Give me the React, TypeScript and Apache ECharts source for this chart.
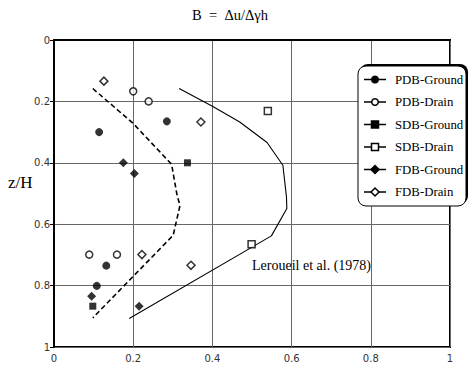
import React, { useEffect, useRef } from "react";
import * as echarts from "echarts";

const xTicks = [0, 0.2, 0.4, 0.6, 0.8, 1];
const pdbGround = [[0.114, 0.3], [0.285, 0.265], [0.132, 0.735], [0.108, 0.801]];
const pdbDrain = [[0.2, 0.167], [0.239, 0.2], [0.089, 0.699], [0.159, 0.699]];
const sdbGround = [[0.337, 0.4], [0.098, 0.867]];
const sdbDrain = [[0.54, 0.231], [0.499, 0.665]];
const fdbGround = [[0.175, 0.4], [0.203, 0.435], [0.095, 0.835], [0.215, 0.867]];
const fdbDrain = [[0.126, 0.134], [0.371, 0.267], [0.346, 0.734], [0.222, 0.699]];
const dashedCurve = [[0.098, 0.158], [0.2, 0.272], [0.297, 0.405], [0.31, 0.5], [0.318, 0.54], [0.301, 0.636], [0.098, 0.905]];
const leroueilCurve = [[0.316, 0.158], [0.4, 0.216], [0.469, 0.267], [0.538, 0.334], [0.578, 0.408], [0.587, 0.511], [0.588, 0.549], [0.549, 0.638], [0.19, 0.907]];
const legendNames = ["PDB-Ground", "PDB-Drain", "SDB-Ground", "SDB-Drain", "FDB-Ground", "FDB-Drain"];
const legendShapes = ["circle", "circle", "rect", "rect", "diamond", "diamond"];
const legendFilled = [true, false, true, false, true, false];

const serif = "'Times New Roman', 'Liberation Serif', serif";

function scatter(name: string, data: number[][], symbol: string, filled: boolean, size: number) {
  return {
    name,
    type: "scatter",
    data,
    symbol,
    symbolSize: size,
    itemStyle: {
      color: filled ? "#000" : "#fff",
      borderColor: "#000",
      borderWidth: filled ? 0 : 1.5,
    },
    z: 5,
  };
}

function txt(text: string, x: number, y: number, size: number, align: string, z = 13) {
  return { type: "text", x, y, z, style: { text, fontFamily: serif, fontSize: size, fill: "#000", align, verticalAlign: "middle" } };
}

function legendGraphics() {
  const els: any[] = [];
  els.push({ type: "rect", shape: { x: 360, y: 64, width: 108, height: 140, r: 8 }, style: { fill: "#000" }, z: 10 });
  els.push({ type: "rect", shape: { x: 358, y: 66, width: 108, height: 140, r: 8 }, style: { fill: "#fff", stroke: "#000", lineWidth: 1 }, z: 11 });
  legendNames.forEach((n, i) => {
    const y = 79.5 + i * 22.5;
    const cx = 375;
    const filled = legendFilled[i];
    const st = { fill: filled ? "#000" : "#fff", stroke: "#000", lineWidth: 1.5 };
    els.push({ type: "line", shape: { x1: 364, y1: y, x2: 386, y2: y }, style: { stroke: "#000", lineWidth: 1.5 }, z: 12 });
    if (legendShapes[i] === "circle") {
      els.push({ type: "circle", shape: { cx, cy: y, r: 3.3 }, style: st, z: 13 });
    } else if (legendShapes[i] === "rect") {
      els.push({ type: "rect", shape: { x: cx - 3.5, y: y - 3.5, width: 7, height: 7 }, style: st, z: 13 });
    } else {
      els.push({ type: "polygon", shape: { points: [[cx, y - 4], [cx + 4, y], [cx, y + 4], [cx - 4, y]] }, style: st, z: 13 });
    }
    els.push(txt(n, 395, y, 12.8, "left"));
  });
  return els;
}

export default function App() {
  const ref = useRef<HTMLDivElement>(null);
  useEffect(() => {
    document.body.style.margin = "0";
    const chart = echarts.init(ref.current!, null, { renderer: "svg" });
    chart.setOption({
      animation: false,
      backgroundColor: "#fff",
      textStyle: { fontFamily: serif },
      grid: { left: 54, top: 40, width: 396, height: 307, show: true, borderColor: "#000", borderWidth: 2, backgroundColor: "transparent" },
      xAxis: {
        type: "value",
        min: xTicks[0],
        max: xTicks[xTicks.length - 1],
        interval: 0.2,
        axisLine: { show: true, lineStyle: { color: "#000", width: 2 } },
        axisTick: { show: false },
        splitLine: { show: true, lineStyle: { color: "#666", width: 1 } },
        axisLabel: { color: "#333", fontSize: 10, fontFamily: "DejaVu Sans", margin: 6 },
      },
      yAxis: {
        type: "value",
        inverse: true,
        min: 0,
        max: 1,
        interval: 0.2,
        axisLine: { show: true, lineStyle: { color: "#000", width: 2 } },
        axisTick: { show: true, length: 4, lineStyle: { color: "#000" } },
        splitLine: { show: true, lineStyle: { color: "#666", width: 1 } },
        axisLabel: { color: "#333", fontSize: 10, fontFamily: "DejaVu Sans", margin: 4 },
      },
      series: [
        { name: "dashed", type: "line", data: dashedCurve, showSymbol: false, symbol: "none", lineStyle: { color: "#000", width: 1.6, type: [5, 3] }, z: 3 },
        { name: "Leroueil", type: "line", data: leroueilCurve, showSymbol: false, symbol: "none", lineStyle: { color: "#000", width: 1.1 }, z: 3 },
        scatter("PDB-Ground", pdbGround, "circle", true, 8),
        scatter("PDB-Drain", pdbDrain, "circle", false, 7),
        scatter("SDB-Ground", sdbGround, "rect", true, 7),
        scatter("SDB-Drain", sdbDrain, "rect", false, 7),
        scatter("FDB-Ground", fdbGround, "diamond", true, 9),
        scatter("FDB-Drain", fdbDrain, "diamond", false, 8),
      ],
      graphic: [
        txt("B  =  Δu/Δγh", 230, 15, 14.5, "center"),
        txt("z/H", 8, 182, 17, "left"),
        txt("Leroueil et al. (1978)", 252, 265, 14, "left", 6),
        ...legendGraphics(),
      ],
    });
    return () => chart.dispose();
  }, []);
  return <div ref={ref} style={{ position: "absolute", left: 0, top: 0, width: 470, height: 365 }} />;
}
